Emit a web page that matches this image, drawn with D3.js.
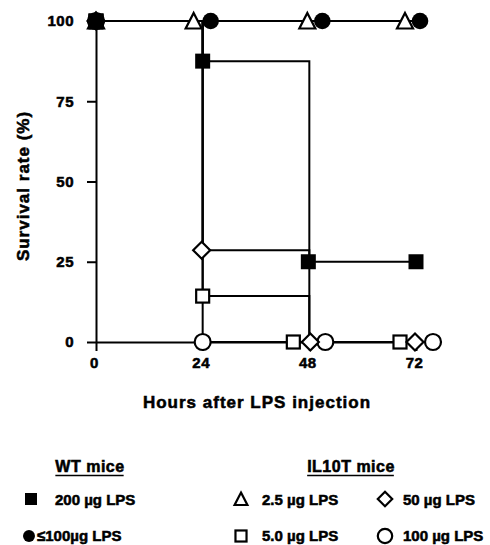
<!DOCTYPE html>
<html>
<head>
<meta charset="utf-8">
<script src="https://cdn.jsdelivr.net/npm/d3@7"></script>
<style>
  html, body { margin: 0; padding: 0; background: #fff; }
  svg { display: block; }
  text { font-family: "Liberation Sans", Arial, Helvetica, sans-serif; font-weight: bold; fill: #000; stroke: #000; stroke-width: 0.55px; }
</style>
</head>
<body>
<svg id="chart" width="490" height="545"></svg>
<script>
// ---------------- data ----------------
const timePoints = [0, 24, 48, 72];              // hours after LPS injection
const yTicks = [0, 25, 50, 75, 100];             // survival rate tick labels
const seriesNames = ["WT 200 µg LPS", "WT ≤100 µg LPS", "IL10T 2.5 µg LPS", "IL10T 5.0 µg LPS", "IL10T 50 µg LPS", "IL10T 100 µg LPS"];
const wt200    = [100, 87.5, 25, 25];
const wt100    = [100, 100, 100, 100];
const il2_5    = [100, 100, 100, 100];
const il5_0    = [100, 14.3, 0, 0];
const il50     = [100, 28.6, 0, 0];
const il100    = [100, 0, 0, 0];
const seriesValues = [wt200, wt100, il2_5, il5_0, il50, il100];

// ---------------- styling ----------------
const markerKinds = ["fsquare", "fcircle", "triangle", "square", "diamond", "circle"];
// horizontal nudges (px) used in the original figure to separate overlapping symbols
const nudges = [
  [0, 0, -1, 0],
  [0, 8, 13, 4],
  [0, -9, -2, -11],
  [0, 0, -16, -16],
  [0, -1, 1, -1],
  [0, 0, 16, 17]
];

const svg = d3.select("#chart");
const x = d3.scaleLinear().domain([0, 72]).range([96, 416]);
const y = d3.scaleLinear().domain([0, 100]).range([342, 21]);

// axes
const yAxis = d3.axisLeft(y).tickValues(yTicks).tickSize(9).tickSizeOuter(0).tickPadding(13);
const gy = svg.append("g").attr("transform", `translate(${x(0)},0)`).call(yAxis);
const xAxis = d3.axisBottom(x).tickValues(timePoints).tickSize(9).tickSizeOuter(0).tickPadding(6);
const gx = svg.append("g").attr("transform", `translate(0,${y(0)})`).call(xAxis);
[gx, gy].forEach(g => {
  g.selectAll("path.domain").attr("stroke", "#000").attr("stroke-width", 2);
  g.selectAll(".tick line").attr("stroke", "#000").attr("stroke-width", 2);
  g.selectAll(".tick text").style("font-size", "15px").style("letter-spacing", "0.5px").attr("fill", "#000");
});
gx.selectAll(".tick text").attr("dx", "-2");

// step lines (Kaplan–Meier style)
const line = d3.line().x(d => x(d[0])).y(d => y(d[1])).curve(d3.curveStepAfter);
seriesValues.forEach(vals => {
  svg.append("path")
    .attr("d", line(timePoints.map((t, i) => [t, vals[i]])))
    .attr("fill", "none").attr("stroke", "#000").attr("stroke-width", 2);
});

// marker drawing
function drawMarker(g, kind, cx, cy, s) {
  s = s || 1;
  switch (kind) {
    case "fsquare":
      g.append("rect").attr("x", cx - 7.5*s).attr("y", cy - 7.5*s).attr("width", 15*s).attr("height", 15*s).attr("fill", "#000");
      break;
    case "fcircle":
      g.append("circle").attr("cx", cx).attr("cy", cy).attr("r", 8.3*s).attr("fill", "#000");
      break;
    case "triangle":
      g.append("path").attr("d", `M${cx},${cy - 8*s} L${cx + 8*s},${cy + 7.5*s} L${cx - 8*s},${cy + 7.5*s} Z`)
        .attr("fill", "#fff").attr("stroke", "#000").attr("stroke-width", 2.2).attr("stroke-linejoin", "miter");
      break;
    case "square":
      g.append("rect").attr("x", cx - 6.5*s).attr("y", cy - 6.5*s).attr("width", 13*s).attr("height", 13*s)
        .attr("fill", "#fff").attr("stroke", "#000").attr("stroke-width", 2.2);
      break;
    case "diamond":
      g.append("path").attr("d", `M${cx},${cy - 8.5*s} L${cx + 8.5*s},${cy} L${cx},${cy + 8.5*s} L${cx - 8.5*s},${cy} Z`)
        .attr("fill", "#fff").attr("stroke", "#000").attr("stroke-width", 2.2);
      break;
    case "circle":
      g.append("circle").attr("cx", cx).attr("cy", cy).attr("r", 8*s)
        .attr("fill", "#fff").attr("stroke", "#000").attr("stroke-width", 2.2);
      break;
  }
}

const markerOrder = [2, 5, 3, 4, 0, 1];
const gm = svg.append("g");
markerOrder.forEach(si => {
  seriesValues[si].forEach((v, i) => {
    drawMarker(gm, markerKinds[si], x(timePoints[i]) + nudges[si][i], y(v));
  });
});
// at time 0 all curves overlap: filled markers on top
drawMarker(gm, "fcircle", x(0), y(100));
drawMarker(gm, "fsquare", x(0), y(100) + 1);

// axis titles
svg.append("text").attr("x", 257).attr("y", 408).attr("text-anchor", "middle")
  .style("font-size", "17px").style("letter-spacing", "1px").text("Hours after LPS injection");
svg.append("text").attr("transform", "translate(29,186) rotate(-90)").attr("text-anchor", "middle")
  .style("font-size", "17px").style("letter-spacing", "1px").text("Survival rate (%)");

// legend
const legend = svg.append("g");
function legendTitle(cx, label) {
  const t = legend.append("text").attr("x", cx).attr("y", 472).attr("text-anchor", "middle")
    .style("font-size", "16px").style("letter-spacing", "0.5px").text(label);
  const bb = t.node().getBBox();
  legend.append("line").attr("x1", bb.x).attr("x2", bb.x + bb.width - 1).attr("y1", 475.5).attr("y2", 475.5)
    .attr("stroke", "#000").attr("stroke-width", 1.5);
}
legendTitle(90, "WT mice");
legendTitle(351, "IL10T mice");

const legendItems = [
  {si: 0, mx: 31, my: 499, tx: 55, ty: 505, label: "200 µg LPS", s: 0.8},
  {si: 1, mx: 29, my: 536, tx: 37, ty: 541, label: "≤100µg LPS", s: 0.72},
  {si: 2, mx: 241, my: 499, tx: 262, ty: 505, label: "2.5 µg LPS", s: 0.8},
  {si: 4, mx: 385, my: 499, tx: 403, ty: 505, label: "50 µg LPS", s: 0.85},
  {si: 3, mx: 241, my: 536, tx: 262, ty: 541, label: "5.0 µg LPS", s: 0.85},
  {si: 5, mx: 385, my: 536, tx: 403, ty: 541, label: "100 µg LPS", s: 0.9}
];
legendItems.forEach(it => {
  drawMarker(legend, markerKinds[it.si], it.mx, it.my, it.s);
  legend.append("text").attr("x", it.tx).attr("y", it.ty).style("font-size", "15px").text(it.label);
});
</script>
</body>
</html>
